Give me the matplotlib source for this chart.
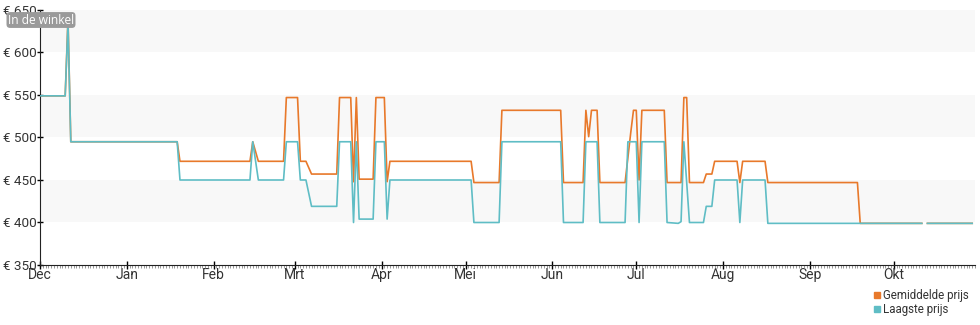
import pandas as pd
import numpy as np
import matplotlib.pyplot as plt
import matplotlib.dates as mdates
from matplotlib.lines import Line2D

plt.rcParams['font.family'] = ['Roboto', 'DejaVu Sans']

# --------- Gemiddelde prijs (breakpoints)
gem_dates = ["2023-12-01", "2023-12-10", "2023-12-11", "2023-12-12", "2024-01-19", "2024-01-20",
             "2024-02-14", "2024-02-15", "2024-02-17", "2024-02-26", "2024-02-27", "2024-03-02",
             "2024-03-03", "2024-03-05", "2024-03-07", "2024-03-16", "2024-03-17", "2024-03-21",
             "2024-03-22", "2024-03-23", "2024-03-24", "2024-03-29", "2024-03-30", "2024-04-02",
             "2024-04-03", "2024-04-04", "2024-05-03", "2024-05-04", "2024-05-13", "2024-05-14",
             "2024-06-04", "2024-06-05", "2024-06-12", "2024-06-13", "2024-06-14", "2024-06-15",
             "2024-06-17", "2024-06-18", "2024-06-27", "2024-06-29", "2024-06-30", "2024-07-01",
             "2024-07-02", "2024-07-03", "2024-07-11", "2024-07-12", "2024-07-17", "2024-07-18",
             "2024-07-19", "2024-07-20", "2024-07-25", "2024-07-26", "2024-07-28", "2024-07-29",
             "2024-08-06", "2024-08-07", "2024-08-08", "2024-08-16", "2024-08-17", "2024-09-18",
             "2024-09-19", "2024-10-11", "2024-10-12", "2024-10-13", "2024-10-29"]
gem_prijs = [549, 549, 640, 495, 495, 472,
             472, 495, 472, 472, 547, 547,
             472, 472, 457, 457, 547, 547,
             448, 547, 451, 451, 547, 547,
             448, 472, 472, 447, 447, 532,
             532, 447, 447, 532, 501, 532,
             532, 447, 447, 505, 532, 532,
             450, 532, 532, 447, 447, 547,
             547, 447, 447, 457, 457, 472,
             472, 447, 472, 472, 447, 447,
             399, 399, np.nan, 399, 399]

# --------- Laagste prijs
laag_dates = ["2023-12-01", "2023-12-10", "2023-12-11", "2023-12-12", "2024-01-19", "2024-01-20",
              "2024-02-14", "2024-02-15", "2024-02-17", "2024-02-26", "2024-02-27", "2024-03-02",
              "2024-03-03", "2024-03-05", "2024-03-07", "2024-03-16", "2024-03-17", "2024-03-21",
              "2024-03-22", "2024-03-23", "2024-03-24", "2024-03-29", "2024-03-30", "2024-04-02",
              "2024-04-03", "2024-04-04", "2024-05-03", "2024-05-04", "2024-05-13", "2024-05-14",
              "2024-06-04", "2024-06-05", "2024-06-12", "2024-06-13", "2024-06-17", "2024-06-18",
              "2024-06-27", "2024-06-28", "2024-07-01", "2024-07-02", "2024-07-03", "2024-07-11",
              "2024-07-12", "2024-07-16", "2024-07-17", "2024-07-18", "2024-07-20", "2024-07-25",
              "2024-07-26", "2024-07-28", "2024-07-29", "2024-08-06", "2024-08-07", "2024-08-08",
              "2024-08-16", "2024-08-17", "2024-10-11", "2024-10-12", "2024-10-13", "2024-10-29"]
laag_prijs = [549, 549, 635, 495, 495, 450,
              450, 495, 450, 450, 495, 495,
              450, 450, 419, 419, 495, 495,
              400, 495, 404, 404, 495, 495,
              404, 450, 450, 400, 400, 495,
              495, 400, 400, 495, 495, 400,
              400, 495, 495, 400, 495, 495,
              400, 399, 401, 495, 400, 400,
              419, 419, 450, 450, 400, 450,
              450, 399, 399, np.nan, 399, 399]

maanden = ["Dec", "Jan", "Feb", "Mrt", "Apr", "Mei", "Jun", "Jul", "Aug", "Sep", "Okt"]
maand_start = pd.date_range("2023-12-01", periods=11, freq="MS")
prijs_ticks = [350, 400, 450, 500, 550, 600, 650]

gem = pd.Series(gem_prijs, index=pd.to_datetime(gem_dates))
laag = pd.Series(laag_prijs, index=pd.to_datetime(laag_dates))

oranje = "#e8792b"
cyaan = "#5fbdc5"

fig = plt.figure(figsize=(9.8, 3.25), dpi=100)
ax = fig.add_axes([40/980, 1 - 265/325, 935/980, 255/325])

# very light grey bands
for lo in [400, 500, 600]:
    ax.axhspan(lo, lo + 50, color="#f8f8f8", zorder=0, lw=0)

ax.plot(gem.index, gem.values, color=oranje, linewidth=1.2, zorder=2)
ax.plot(laag.index, laag.values, color=cyaan, linewidth=1.2, zorder=3)

ax.set_xlim(pd.Timestamp("2023-12-01"), pd.Timestamp("2024-10-30"))
ax.set_ylim(350, 650)

ax.set_yticks(prijs_ticks)
ax.set_yticklabels(["€ %d" % p for p in prijs_ticks])
ax.set_xticks(maand_start)
ax.set_xticklabels(maanden)
ax.xaxis.set_minor_locator(mdates.DayLocator())

ax.tick_params(axis="y", direction="inout", length=5, width=1, labelsize=9.7,
               labelcolor="#333333", pad=-0.5)
ax.tick_params(axis="x", which="major", direction="inout", length=6, width=1,
               labelsize=10, labelcolor="#333333", pad=-1)
ax.tick_params(axis="x", which="minor", direction="out", length=2, width=0.6, color="#888888")

for s in ["top", "right"]:
    ax.spines[s].set_visible(False)
ax.spines["left"].set_color("#222222")
ax.spines["bottom"].set_color("#222222")

fig.text(41/980, 1 - 20/325, "In de winkel", color="white", fontsize=8.6,
         ha="center", va="center", family=["Open Sans", "DejaVu Sans"],
         bbox=dict(boxstyle="round,pad=0.12,rounding_size=0.3", fc="#9a9a9a", ec="none"))

handles = [Line2D([], [], marker="s", linestyle="None", color=oranje, markersize=5),
           Line2D([], [], marker="s", linestyle="None", color=cyaan, markersize=5)]
fig.legend(handles, ["Gemiddelde prijs", "Laagste prijs"], loc="lower right",
           bbox_to_anchor=(0.997, 0.0), frameon=False, fontsize=8.3,
           handletextpad=0.1, labelspacing=0.15, handlelength=0.8, borderpad=0.25,
           labelcolor="#333333")

plt.savefig("out.png", dpi=100)
